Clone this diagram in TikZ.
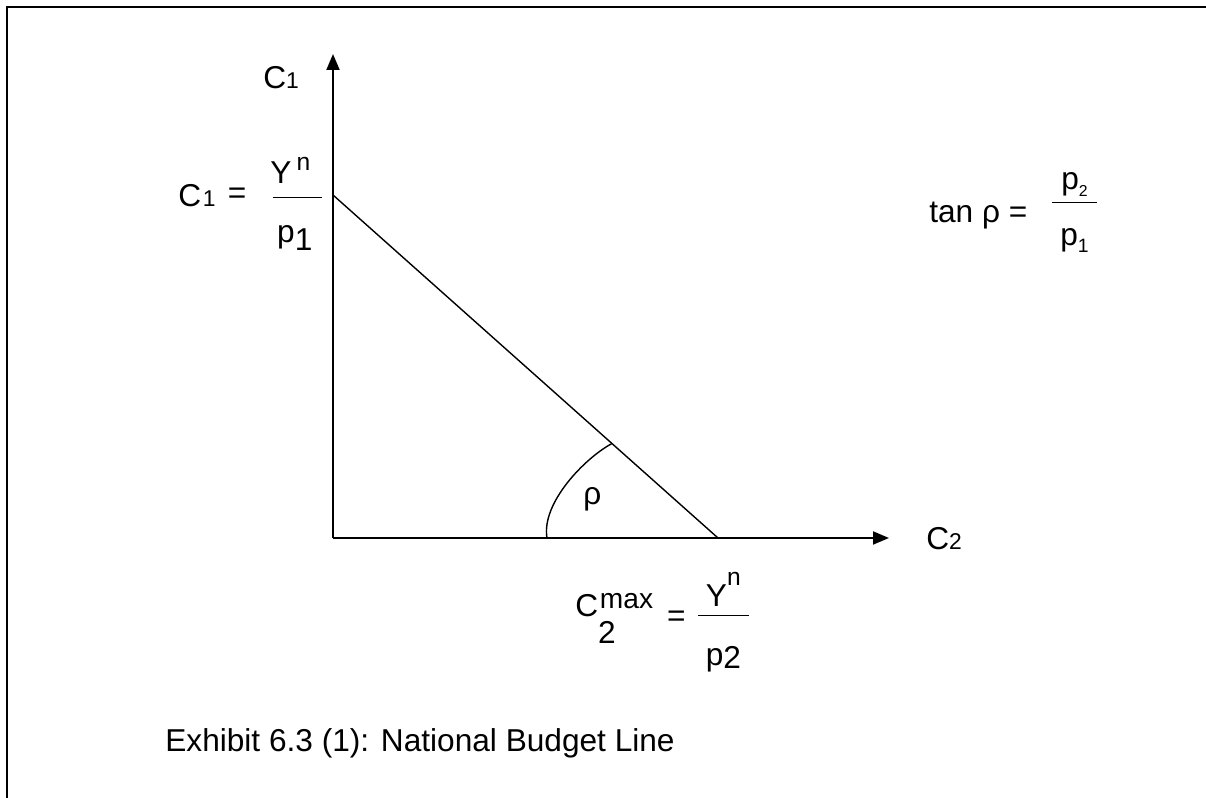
\documentclass[tikz,border=0pt]{standalone}
\usepackage{fontspec}
\setmainfont{Liberation Sans}
\usetikzlibrary{arrows.meta,calc,positioning}

% stacked fraction: num, den, bar width, bar height, num lift, den drop
\newcommand{\barfrac}[6]{%
  \makebox[#3]{%
    \rlap{\raisebox{#4}{\rule{#3}{0.7pt}}}%
    \rlap{\makebox[#3]{\raisebox{\dimexpr#4+#5\relax}{#1}}}%
    \makebox[#3]{\raisebox{\dimexpr#4-#6\relax}{#2}}}}
\newcommand{\smallidx}[2]{{\fontsize{#1}{#1}\selectfont #2}}

\begin{document}
\begin{tikzpicture}[
      axis/.style={line width=1.1pt, -{Triangle[length=0.32cm,width=0.26cm]}},
      budget/.style={line width=0.8pt},
      lbl/.style={inner sep=0pt, anchor=base west, font=\fontsize{18}{22}\selectfont}
    ]
      \useasboundingbox (0,0) rectangle (24.12,15.96);
      \draw[line width=1.6pt] (0.14,0) -- (0.14,15.82) -- (24.12,15.82);

      \coordinate (origin) at (6.66,5.20);
      \coordinate (ytip) at (6.66,14.88);
      \coordinate (xtip) at (17.78,5.20);
      \coordinate (c1max) at (6.66,12.06);
      \coordinate (c2max) at (14.36,5.20);
      \coordinate (arcstart) at (10.94,5.20);
      \coordinate (arcend) at (12.24,7.09);

      \draw[axis] (origin) -- (ytip);
      \draw[axis] (origin) -- (xtip);
      \draw[budget] (c1max) -- (c2max);
      \draw[budget] (arcstart) .. controls (10.82,5.90) and (11.70,6.80) .. (arcend);

      \node[lbl] (c1axis) at (5.26,14.18) {C\smallidx{13}{1}};
      \node[lbl] (c2axis) at (18.52,4.96) {C\smallidx{13}{2}};
      \node[lbl] (rho) at (11.66,5.86) {ρ};

      \node[lbl] (c1val) at (3.56,11.82) {C\kern1pt\smallidx{13}{1}\hspace{2pt} \raisebox{2pt}{=}\hspace{15pt}%
        \barfrac{Y\,\raisebox{7pt}{\smallidx{14}{n}}\hspace{8pt}}{p\raisebox{-4.5pt}{1}\hspace{3pt}}{28pt}{5pt}{8.5pt}{25pt}};
      \node[lbl] (slope) at (18.58,11.50) {tan ρ =\hspace{14pt}%
        \barfrac{p\raisebox{-4pt}{\smallidx{9}{2}}}{p\raisebox{-4pt}{\smallidx{11}{1}}}{25.6pt}{11.4pt}{7.4pt}{24pt}};
      \node[lbl] (c2val) at (11.50,3.62) {C\rlap{\raisebox{-15pt}{2}}\kern1pt\raisebox{5pt}{\smallidx{16}{max}}\hspace{8pt}\raisebox{-5.5pt}{=}\hspace{7pt}%
        \barfrac{Y\raisebox{12pt}{\smallidx{14}{n}}}{p\raisebox{-2pt}{2}}{29pt}{0.5pt}{5.7pt}{28pt}};

      \node[lbl] (caption) at (3.30,0.92) {Exhibit 6.3 (1): National Budget Line};
    \end{tikzpicture}
\end{document}
